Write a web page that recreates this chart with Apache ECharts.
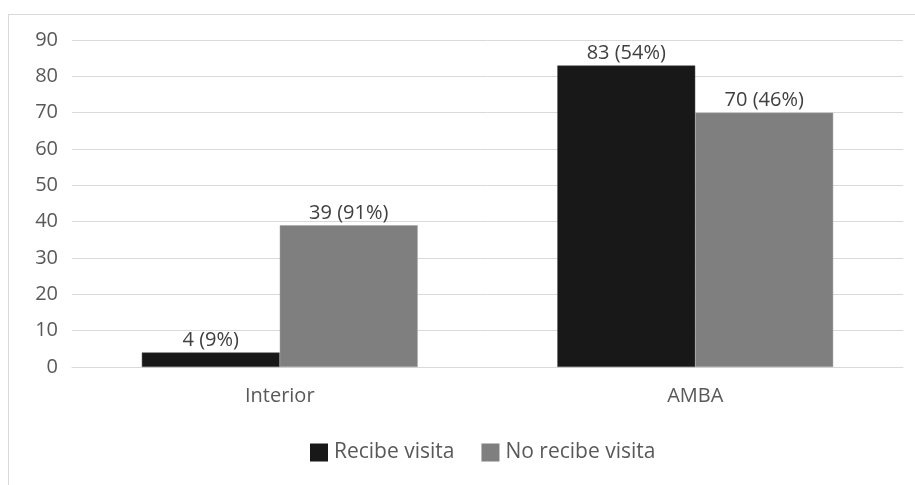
<!DOCTYPE html>
<html>
<head>
<meta charset="utf-8">
<script src="https://cdn.jsdelivr.net/npm/echarts@6/dist/echarts.min.js"></script>
<style>
html,body{margin:0;padding:0;background:#fff;}
#frame{position:absolute;left:8px;top:14px;width:915px;height:480px;border:1px solid #d9d9d9;box-sizing:border-box;}
#chart{position:absolute;left:0;top:0;width:915px;height:485px;}
</style>
</head>
<body>
<div id="frame"></div>
<div id="chart"></div>
<script>
const categories = ['Interior', 'AMBA'];
const seriesNames = ['Recibe visita', 'No recibe visita'];
const recibe = [4, 83];
const noRecibe = [39, 70];
const recibePct = ['9%', '54%'];
const noRecibePct = ['91%', '46%'];
const yTicks = {min: 0, max: 90, interval: 10};

const font = 'Open Sans';
const fs = 20;
const chart = echarts.init(document.getElementById('chart'));
function lbl(pcts) {
  return {
    show: true, position: 'top', distance: 2,
    color: '#404040', fontFamily: font, fontSize: fs,
    formatter: p => p.value + ' (' + pcts[p.dataIndex] + ')'
  };
}
chart.setOption({
  backgroundColor: 'transparent',
  animation: false,
  grid: {left: 72, right: 12, top: 40, bottom: 118, containLabel: false},
  legend: {
    bottom: 17, left: 305,
    itemWidth: 18, itemHeight: 18, itemGap: 27,
    icon: 'rect',
    itemStyle: {borderWidth: 0},
    textStyle: {color: '#595959', fontFamily: font, fontSize: 21, padding: [0, 0, 0, 1]},
    data: seriesNames
  },
  xAxis: {
    type: 'category', data: categories,
    axisLine: {show: true, lineStyle: {color: '#d9d9d9', width: 1}},
    axisTick: {show: false},
    axisLabel: {color: '#595959', fontFamily: font, fontSize: fs, margin: 19}
  },
  yAxis: {
    type: 'value', min: yTicks.min, max: yTicks.max, interval: yTicks.interval,
    axisLine: {show: false}, axisTick: {show: false},
    splitLine: {lineStyle: {color: '#d9d9d9', width: 1}},
    axisLabel: {color: '#595959', fontFamily: font, fontSize: fs, margin: 14}
  },
  series: [
    {name: seriesNames[0], type: 'bar', data: recibe, barGap: '0%', barCategoryGap: '33.6%',
     itemStyle: {color: '#181818', borderColor: '#505050', borderWidth: 0.5}, label: lbl(recibePct)},
    {name: seriesNames[1], type: 'bar', data: noRecibe, barGap: '0%', barCategoryGap: '33.6%',
     itemStyle: {color: '#7f7f7f', borderColor: '#a0a0a0', borderWidth: 0.5}, label: lbl(noRecibePct)}
  ]
});
</script>
</body>
</html>
